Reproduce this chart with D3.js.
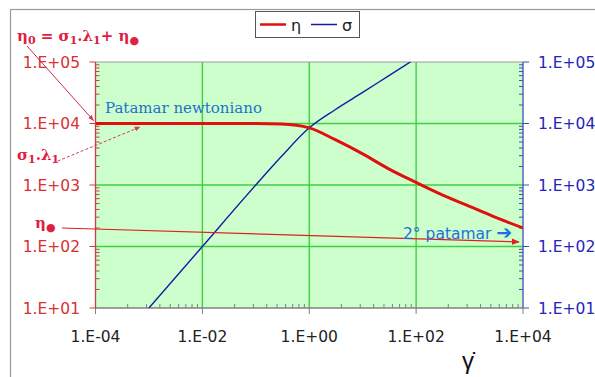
<!DOCTYPE html>
<html>
<head>
<meta charset="utf-8">
<script src="https://cdn.jsdelivr.net/npm/d3@7"></script>
<style>
  body { margin: 0; background: #fff; }
  svg { display: block; }
</style>
</head>
<body>
<script>
// shear rate (x)
const gammaRate = [1e-4, 1e-3, 1e-2, 1e-1, 0.3, 1, 3, 10, 30, 100, 300, 1000, 3000, 1e4];
// viscosity eta (red, left axis)
const etaValues = [1e4, 1e4, 1e4, 1e4, 9.8e3, 8.5e3, 5.5e3, 3.2e3, 1.85e3, 1.1e3, 7e2, 4.5e2, 3e2, 2e2];
// shear stress sigma (blue, right axis)
const sigmaRate = [1e-3, 1e-2, 1e-1, 0.3, 1, 3, 10, 30, 100];
const sigmaValues = [10, 100, 1e3, 2.9e3, 8.5e3, 1.66e4, 3.2e4, 5.9e4, 1.15e5];

const xTicks = [1e-4, 1e-2, 1, 1e2, 1e4];
const xTickLabels = ["1.E-04", "1.E-02", "1.E+00", "1.E+02", "1.E+04"];
const yTicks = [1e1, 1e2, 1e3, 1e4, 1e5];
const yTickLabels = ["1.E+01", "1.E+02", "1.E+03", "1.E+04", "1.E+05"];

const width = 595, height = 377;
const plot = { left: 95.5, right: 523, top: 62, bottom: 308 };

const x = d3.scaleLog().domain([1e-4, 1e4]).range([plot.left, plot.right]);
const y = d3.scaleLog().domain([1e1, 1e5]).range([plot.bottom, plot.top]);

const svg = d3.select('body').append('svg')
    .attr('width', width)
    .attr('height', height);

const defs = svg.append('defs');
defs.append('clipPath').attr('id', 'plotClip')
  .append('rect')
    .attr('x', plot.left).attr('y', plot.top)
    .attr('width', plot.right - plot.left).attr('height', plot.bottom - plot.top);

function arrowMarker(id, color, size) {
  defs.append('marker')
      .attr('id', id)
      .attr('viewBox', '0 0 10 10')
      .attr('refX', 9).attr('refY', 5)
      .attr('markerWidth', size).attr('markerHeight', size)
      .attr('markerUnits', 'userSpaceOnUse')
      .attr('orient', 'auto')
    .append('path')
      .attr('d', 'M0,1 L10,5 L0,9 z')
      .attr('fill', color);
}
arrowMarker('arrRed', '#e02020', 8);
arrowMarker('arrRedSmall', '#d23a5a', 6);

// outer frame
svg.append('rect')
    .attr('x', 10.5).attr('y', 9.5)
    .attr('width', 600).attr('height', 400)
    .attr('fill', 'none')
    .attr('stroke', '#9a9a9a')
    .attr('stroke-width', 1.2);

// plot background
svg.append('rect')
    .attr('x', plot.left).attr('y', plot.top)
    .attr('width', plot.right - plot.left).attr('height', plot.bottom - plot.top)
    .attr('fill', '#ccffcc');

// grid
const grid = svg.append('g').attr('stroke', '#3fd03f').attr('stroke-width', 1.4);
grid.selectAll('line.vx')
  .data(xTicks.slice(1, -1))
  .join('line')
    .attr('x1', d => x(d)).attr('x2', d => x(d))
    .attr('y1', plot.top).attr('y2', plot.bottom);
grid.selectAll('line.hy')
  .data(yTicks.slice(1, -1))
  .join('line')
    .attr('y1', d => y(d)).attr('y2', d => y(d))
    .attr('x1', plot.left).attr('x2', plot.right);

// top border
svg.append('line')
    .attr('x1', plot.left).attr('x2', plot.right)
    .attr('y1', plot.top).attr('y2', plot.top)
    .attr('stroke', '#999').attr('stroke-width', 1);

// minor ticks positions
const yMinor = [];
for (let e = 1; e < 5; e++) for (let k = 2; k <= 9; k++) yMinor.push(k * Math.pow(10, e));
const xMinor = [];
for (let e = -4; e < 4; e += 2) for (let k = 2; k <= 9; k++) xMinor.push(k * k * Math.pow(10, e));

const labelFont = 'DejaVu Sans, sans-serif';
const labelSize = 15.5;

// bottom axis
const bottom = svg.append('g');
bottom.append('line')
    .attr('x1', plot.left).attr('x2', plot.right)
    .attr('y1', plot.bottom).attr('y2', plot.bottom)
    .attr('stroke', '#808080').attr('stroke-width', 1.3);
bottom.selectAll('line.maj').data(xTicks).join('line')
    .attr('x1', d => x(d)).attr('x2', d => x(d))
    .attr('y1', plot.bottom).attr('y2', plot.bottom + 6)
    .attr('stroke', '#808080');
bottom.selectAll('line.min').data(xMinor).join('line')
    .attr('x1', d => x(d)).attr('x2', d => x(d))
    .attr('y1', plot.bottom).attr('y2', plot.bottom - 4)
    .attr('stroke', '#808080');
bottom.selectAll('text').data(xTicks).join('text')
    .attr('x', d => x(d))
    .attr('y', 342)
    .attr('text-anchor', 'middle')
    .attr('font-family', labelFont)
    .attr('font-size', labelSize)
    .attr('fill', '#222')
    .text((d, i) => xTickLabels[i]);

// left axis (eta)
const leftColor = '#d93030';
const left = svg.append('g');
left.append('line')
    .attr('x1', plot.left).attr('x2', plot.left)
    .attr('y1', plot.top).attr('y2', plot.bottom)
    .attr('stroke', '#c84040').attr('stroke-width', 1.3);
left.selectAll('line.maj').data(yTicks).join('line')
    .attr('x1', plot.left - 6).attr('x2', plot.left)
    .attr('y1', d => y(d)).attr('y2', d => y(d))
    .attr('stroke', '#c84040');
left.selectAll('line.min').data(yMinor).join('line')
    .attr('x1', plot.left).attr('x2', plot.left + 4)
    .attr('y1', d => y(d)).attr('y2', d => y(d))
    .attr('stroke', '#c84040');
left.selectAll('text').data(yTicks).join('text')
    .attr('x', 80)
    .attr('y', d => y(d) + 5.5)
    .attr('text-anchor', 'end')
    .attr('font-family', labelFont)
    .attr('font-size', labelSize)
    .attr('fill', leftColor)
    .text((d, i) => yTickLabels[i]);

// right axis (sigma)
const rightColor = '#2424c0';
const right = svg.append('g');
right.append('line')
    .attr('x1', plot.right).attr('x2', plot.right)
    .attr('y1', plot.top).attr('y2', plot.bottom)
    .attr('stroke', '#4050b0').attr('stroke-width', 1.3);
right.selectAll('line.maj').data(yTicks).join('line')
    .attr('x1', plot.right).attr('x2', plot.right + 6)
    .attr('y1', d => y(d)).attr('y2', d => y(d))
    .attr('stroke', '#4050b0');
right.selectAll('line.min').data(yMinor).join('line')
    .attr('x1', plot.right - 4).attr('x2', plot.right)
    .attr('y1', d => y(d)).attr('y2', d => y(d))
    .attr('stroke', '#4050b0');
right.selectAll('text').data(yTicks).join('text')
    .attr('x', 538)
    .attr('y', d => y(d) + 5.5)
    .attr('font-family', labelFont)
    .attr('font-size', labelSize)
    .attr('fill', rightColor)
    .text((d, i) => yTickLabels[i]);

// curves
const curves = svg.append('g').attr('clip-path', 'url(#plotClip)');
const line = d3.line().curve(d3.curveMonotoneX);

curves.append('path')
    .attr('d', line(sigmaRate.map((g, i) => [x(g), y(sigmaValues[i])])))
    .attr('fill', 'none')
    .attr('stroke', '#1a1aa8')
    .attr('stroke-width', 1.4);

curves.append('path')
    .attr('d', line(gammaRate.map((g, i) => [x(g), y(etaValues[i])])))
    .attr('fill', 'none')
    .attr('stroke', '#e01010')
    .attr('stroke-width', 3);

// x axis title (gamma dot)
svg.append('text')
    .attr('x', 468).attr('y', 369)
    .attr('text-anchor', 'middle')
    .attr('font-family', 'Liberation Sans, Arial, sans-serif')
    .attr('font-size', 24)
    .attr('fill', '#111')
    .text('\u03B3\u0307');

// legend
const legend = svg.append('g');
legend.append('rect')
    .attr('x', 255.5).attr('y', 11.5).attr('width', 104).attr('height', 26)
    .attr('fill', '#fff').attr('stroke', '#555');
legend.append('line')
    .attr('x1', 260).attr('x2', 286).attr('y1', 24.5).attr('y2', 24.5)
    .attr('stroke', '#e01010').attr('stroke-width', 2.5);
legend.append('text')
    .attr('x', 291).attr('y', 31)
    .attr('font-family', labelFont)
    .attr('font-size', 16).attr('fill', '#222')
    .text('\u03B7');
legend.append('line')
    .attr('x1', 311).attr('x2', 337).attr('y1', 24.5).attr('y2', 24.5)
    .attr('stroke', '#1a1aa8').attr('stroke-width', 1.5);
legend.append('text')
    .attr('x', 342).attr('y', 31)
    .attr('font-family', labelFont)
    .attr('font-size', 16).attr('fill', '#222')
    .text('\u03C3');

// annotations
const ann = svg.append('g')
    .attr('font-family', 'DejaVu Serif, Liberation Serif, serif')
    .attr('font-weight', 'bold')
    .attr('fill', '#e02040');

const eq = ann.append('text').attr('x', 17).attr('y', 41).attr('font-size', 15);
eq.append('tspan').text('\u03B7');
eq.append('tspan').attr('dy', 3).attr('font-size', 11).text('0');
eq.append('tspan').attr('dy', -3).text(' = \u03C3');
eq.append('tspan').attr('dy', 3).attr('font-size', 11).text('1');
eq.append('tspan').attr('dy', -3).text('.\u03BB');
eq.append('tspan').attr('dy', 3).attr('font-size', 11).text('1');
eq.append('tspan').attr('dy', -3).text('+  \u03B7');
eq.append('tspan').attr('dy', 3).attr('font-size', 11).text('\u25CF');

const sl = ann.append('text').attr('x', 17).attr('y', 160).attr('font-size', 15);
sl.append('tspan').text('\u03C3');
sl.append('tspan').attr('dy', 3).attr('font-size', 11).text('1');
sl.append('tspan').attr('dy', -3).text('.\u03BB');
sl.append('tspan').attr('dy', 3).attr('font-size', 11).text('1');

const ei = ann.append('text').attr('x', 35).attr('y', 228).attr('font-size', 15);
ei.append('tspan').text('\u03B7');
ei.append('tspan').attr('dy', 3).attr('font-size', 11).text('\u25CF');

// arrows
svg.append('line')
    .attr('x1', 27).attr('y1', 46)
    .attr('x2', x(1e-4) - 2).attr('y2', y(1e4) - 3)
    .attr('stroke', '#d02a4a').attr('stroke-width', 1)
    .attr('marker-end', 'url(#arrRedSmall)');
svg.append('line')
    .attr('x1', 53).attr('y1', 163)
    .attr('x2', 140).attr('y2', 127)
    .attr('stroke', '#d23a5a').attr('stroke-width', 1)
    .attr('stroke-dasharray', '3,2')
    .attr('marker-end', 'url(#arrRedSmall)');
svg.append('line')
    .attr('x1', 62).attr('y1', 228)
    .attr('x2', x(1e4) - 4).attr('y2', 242)
    .attr('stroke', '#e02020').attr('stroke-width', 1.2)
    .attr('marker-end', 'url(#arrRed)');

svg.append('text')
    .attr('x', 105).attr('y', 113)
    .attr('font-family', 'DejaVu Serif, Liberation Serif, serif')
    .attr('font-size', 15)
    .attr('fill', '#1f72c8')
    .text('Patamar newtoniano');

const p2 = svg.append('text')
    .attr('x', 403).attr('y', 239)
    .attr('font-family', 'DejaVu Sans, sans-serif')
    .attr('font-size', 15.5)
    .attr('fill', '#1f6fdc');
p2.append('tspan').text('2\u00B0 patamar ');
p2.append('tspan').attr('font-weight', 'bold').attr('font-size', 19).text('\u2794');
</script>
</body>
</html>
